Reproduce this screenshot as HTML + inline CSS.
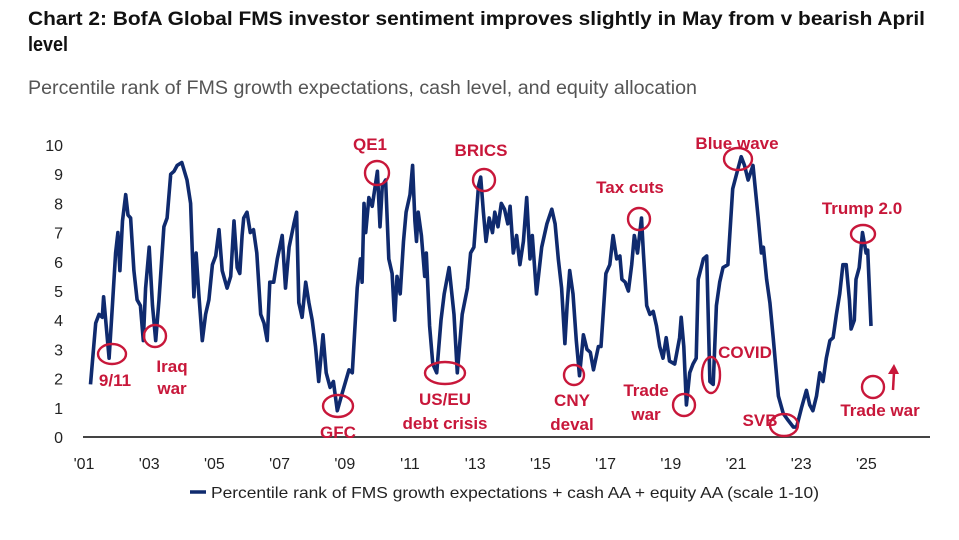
<!DOCTYPE html>
<html><head><meta charset="utf-8"><style>
html,body{margin:0;padding:0;background:#fff;}
svg{display:block;font-family:"Liberation Sans",sans-serif;}
.ann{fill:#c8173a;font-weight:bold;font-size:17px;text-anchor:middle;}
.ring{fill:none;stroke:#c8173a;stroke-width:2.4;}
.tick{fill:#222;font-size:16px;}
</style></head><body>
<svg id="chart" width="959" height="540" viewBox="0 0 959 540">
<text x="28" y="25" font-size="19" font-weight="bold" fill="#111" textLength="897" lengthAdjust="spacingAndGlyphs">Chart 2: BofA Global FMS investor sentiment improves slightly in May from v bearish April</text>
<text x="28" y="51" font-size="20" font-weight="bold" fill="#111" textLength="40" lengthAdjust="spacingAndGlyphs">level</text>
<text x="28" y="94" font-size="19" fill="#555" textLength="669" lengthAdjust="spacingAndGlyphs">Percentile rank of FMS growth expectations, cash level, and equity allocation</text>
<g id="yaxis"></g>
<g id="xaxis"></g>
<line x1="83" y1="437" x2="930" y2="437" stroke="#444" stroke-width="2"/>
<path id="series" fill="none" stroke="#0f2a6e" stroke-width="3.6" stroke-linejoin="round"/>
<g>
<ellipse class="ring" cx="112" cy="354" rx="14" ry="10"/><text class="ann" x="115" y="386">9/11</text>
<circle class="ring" cx="155" cy="336" r="11"/><text class="ann" x="172" y="372">Iraq</text><text class="ann" x="172" y="394">war</text>
<ellipse class="ring" cx="338" cy="406" rx="15" ry="11"/><text class="ann" x="338" y="438">GFC</text>
<circle class="ring" cx="377" cy="173" r="12"/><text class="ann" x="370" y="150">QE1</text>
<ellipse class="ring" cx="445" cy="373" rx="20" ry="11"/><text class="ann" x="445" y="405">US/EU</text><text class="ann" x="445" y="429">debt crisis</text>
<circle class="ring" cx="484" cy="180" r="11"/><text class="ann" x="481" y="156">BRICS</text>
<circle class="ring" cx="574" cy="375" r="10"/><text class="ann" x="572" y="406">CNY</text><text class="ann" x="572" y="430">deval</text>
<circle class="ring" cx="639" cy="219" r="11"/><text class="ann" x="630" y="193">Tax cuts</text>
<circle class="ring" cx="684" cy="405" r="11"/><text class="ann" x="646" y="396">Trade</text><text class="ann" x="646" y="420">war</text>
<ellipse class="ring" cx="711" cy="375" rx="9" ry="18"/><text class="ann" x="745" y="358">COVID</text>
<ellipse class="ring" cx="738" cy="159" rx="14" ry="11"/><text class="ann" x="737" y="149">Blue wave</text>
<ellipse class="ring" cx="784" cy="425" rx="14" ry="11"/><text class="ann" x="760" y="426">SVB</text>
<ellipse class="ring" cx="863" cy="234" rx="12" ry="9"/><text class="ann" x="862" y="214">Trump 2.0</text>
<circle class="ring" cx="873" cy="387" r="11"/><text class="ann" x="880" y="416">Trade war</text>
<line x1="893" y1="390" x2="894" y2="372" stroke="#c8173a" stroke-width="2.5"/><polygon points="888,374 899,374 894,364" fill="#c8173a"/>
</g>
<line x1="190" y1="492" x2="206" y2="492" stroke="#0f2a6e" stroke-width="3.5"/>
<text x="211" y="498" font-size="16" fill="#222" textLength="608" lengthAdjust="spacingAndGlyphs">Percentile rank of FMS growth expectations + cash AA + equity AA (scale 1-10)</text>
</svg>
<script>
const years=[2001.2,2001.36,2001.46,2001.56,2001.6,2001.77,2001.87,2001.97,2002.04,2002.1,2002.18,2002.28,2002.35,2002.43,2002.53,2002.63,2002.73,2002.82,2002.89,2003.0,2003.1,2003.2,2003.3,2003.45,2003.55,2003.66,2003.76,2003.86,2004.0,2004.16,2004.27,2004.37,2004.44,2004.52,2004.63,2004.73,2004.83,2004.94,2005.04,2005.14,2005.24,2005.39,2005.5,2005.6,2005.7,2005.78,2005.85,2005.9,2006.0,2006.1,2006.2,2006.3,2006.42,2006.52,2006.62,2006.7,2006.82,2006.93,2007.08,2007.18,2007.29,2007.44,2007.52,2007.59,2007.69,2007.8,2007.9,2008.0,2008.1,2008.2,2008.33,2008.43,2008.55,2008.65,2008.77,2008.92,2009.13,2009.23,2009.38,2009.48,2009.53,2009.59,2009.64,2009.74,2009.84,2010.0,2010.08,2010.15,2010.25,2010.35,2010.45,2010.53,2010.6,2010.7,2010.8,2010.88,2011.0,2011.08,2011.15,2011.2,2011.25,2011.35,2011.45,2011.5,2011.6,2011.7,2011.82,2011.95,2012.05,2012.2,2012.35,2012.45,2012.6,2012.76,2012.86,2012.96,2013.1,2013.17,2013.25,2013.33,2013.43,2013.53,2013.6,2013.7,2013.8,2013.9,2014.0,2014.07,2014.17,2014.27,2014.37,2014.48,2014.58,2014.68,2014.75,2014.88,2015.04,2015.2,2015.35,2015.45,2015.55,2015.65,2015.75,2015.82,2015.9,2016.0,2016.1,2016.2,2016.32,2016.43,2016.53,2016.63,2016.78,2016.86,2017.01,2017.13,2017.23,2017.34,2017.44,2017.5,2017.6,2017.7,2017.8,2017.88,2017.98,2018.1,2018.16,2018.26,2018.36,2018.46,2018.56,2018.66,2018.76,2018.86,2018.96,2019.12,2019.27,2019.32,2019.4,2019.48,2019.58,2019.68,2019.78,2019.84,2020.0,2020.1,2020.2,2020.3,2020.4,2020.5,2020.6,2020.75,2020.9,2021.04,2021.16,2021.26,2021.37,2021.52,2021.68,2021.78,2021.84,2021.94,2022.04,2022.14,2022.3,2022.45,2022.6,2022.76,2022.86,2023.01,2023.16,2023.26,2023.36,2023.47,2023.57,2023.67,2023.77,2023.88,2023.98,2024.08,2024.18,2024.28,2024.38,2024.48,2024.53,2024.63,2024.68,2024.78,2024.88,2024.99,2025.04,2025.14];
const values=[1.8,3.9,4.2,4.1,4.8,2.7,4.5,6.3,7.0,5.7,7.4,8.3,7.6,7.5,5.7,4.7,4.5,3.3,5.1,6.5,4.5,3.3,4.7,7.2,7.5,9.0,9.1,9.3,9.4,8.8,8.0,4.8,6.3,4.9,3.3,4.2,4.7,5.9,6.2,7.1,5.7,5.1,5.5,7.4,5.8,5.6,6.9,7.5,7.7,7.0,7.1,6.3,4.2,3.9,3.3,5.3,5.3,6.1,6.9,5.1,6.5,7.3,7.7,4.6,4.1,5.3,4.6,4.0,3.1,1.9,3.5,2.2,1.7,1.9,0.9,1.5,2.3,2.2,5.1,6.1,5.3,8.0,7.0,8.2,7.9,9.1,7.2,8.6,8.8,6.1,5.6,4.0,5.5,4.9,6.7,7.7,8.3,9.3,7.4,6.7,7.7,6.9,5.5,6.3,3.8,2.5,2.2,4.0,4.9,5.8,4.2,2.2,4.2,5.1,6.3,6.5,8.6,8.9,7.7,6.7,7.5,7.0,7.7,7.2,8.0,7.8,7.3,7.9,6.3,6.9,5.9,6.7,8.2,6.1,6.9,4.9,6.5,7.3,7.8,7.3,6.1,5.1,3.2,4.5,5.7,4.9,3.3,2.1,3.5,3.0,2.9,2.3,3.1,3.1,5.6,5.9,6.9,6.1,6.2,5.4,5.3,5.0,5.9,6.9,6.3,7.5,6.3,4.5,4.2,4.3,3.8,3.1,2.7,3.4,2.6,2.5,3.4,4.1,3.1,1.1,2.2,2.5,2.7,5.4,6.1,6.2,1.9,1.8,4.5,5.3,5.8,5.9,8.5,9.1,9.6,9.3,8.8,9.3,7.5,6.3,6.5,5.4,4.6,3.4,1.4,0.8,0.57,0.34,0.34,1.0,1.6,1.1,0.9,1.4,2.2,1.9,2.7,3.3,3.4,4.2,4.9,5.9,5.9,4.7,3.7,4.0,5.4,5.8,7.0,6.3,6.4,3.8,1.8,2.4];
const yTicks=[0,1,2,3,4,5,6,7,8,9,10];
const xTickYears=[2001,2003,2005,2007,2009,2011,2013,2015,2017,2019,2021,2023,2025];
const xTickLabels=["'01","'03","'05","'07","'09","'11","'13","'15","'17","'19","'21","'23","'25"];
const NS="http://www.w3.org/2000/svg";
function xs(yr){return 84+(yr-2001)*32.6;}
function ys(v){return 437-v*29.2;}
const yg=document.getElementById('yaxis');
yTicks.forEach(t=>{const e=document.createElementNS(NS,'text');


e.setAttribute('class','tick');e.setAttribute('x',63);e.setAttribute('y',ys(t)+6);e.setAttribute('text-anchor','end');e.textContent=t;yg.appendChild(e);});
const xg=document.getElementById('xaxis');
xTickYears.forEach((yr,i)=>{const e=document.createElementNS(NS,'text');


e.setAttribute('class','tick');e.setAttribute('x',xs(yr));e.setAttribute('y',469);e.setAttribute('text-anchor','middle');e.textContent=xTickLabels[i];xg.appendChild(e);});
let d='';years.forEach((yr,i)=>{d+=(i?'L':'M')+xs(yr).toFixed(1)+' '+ys(values[i]).toFixed(1);});
document.getElementById('series').setAttribute('d',d);
</script>
</body></html>
